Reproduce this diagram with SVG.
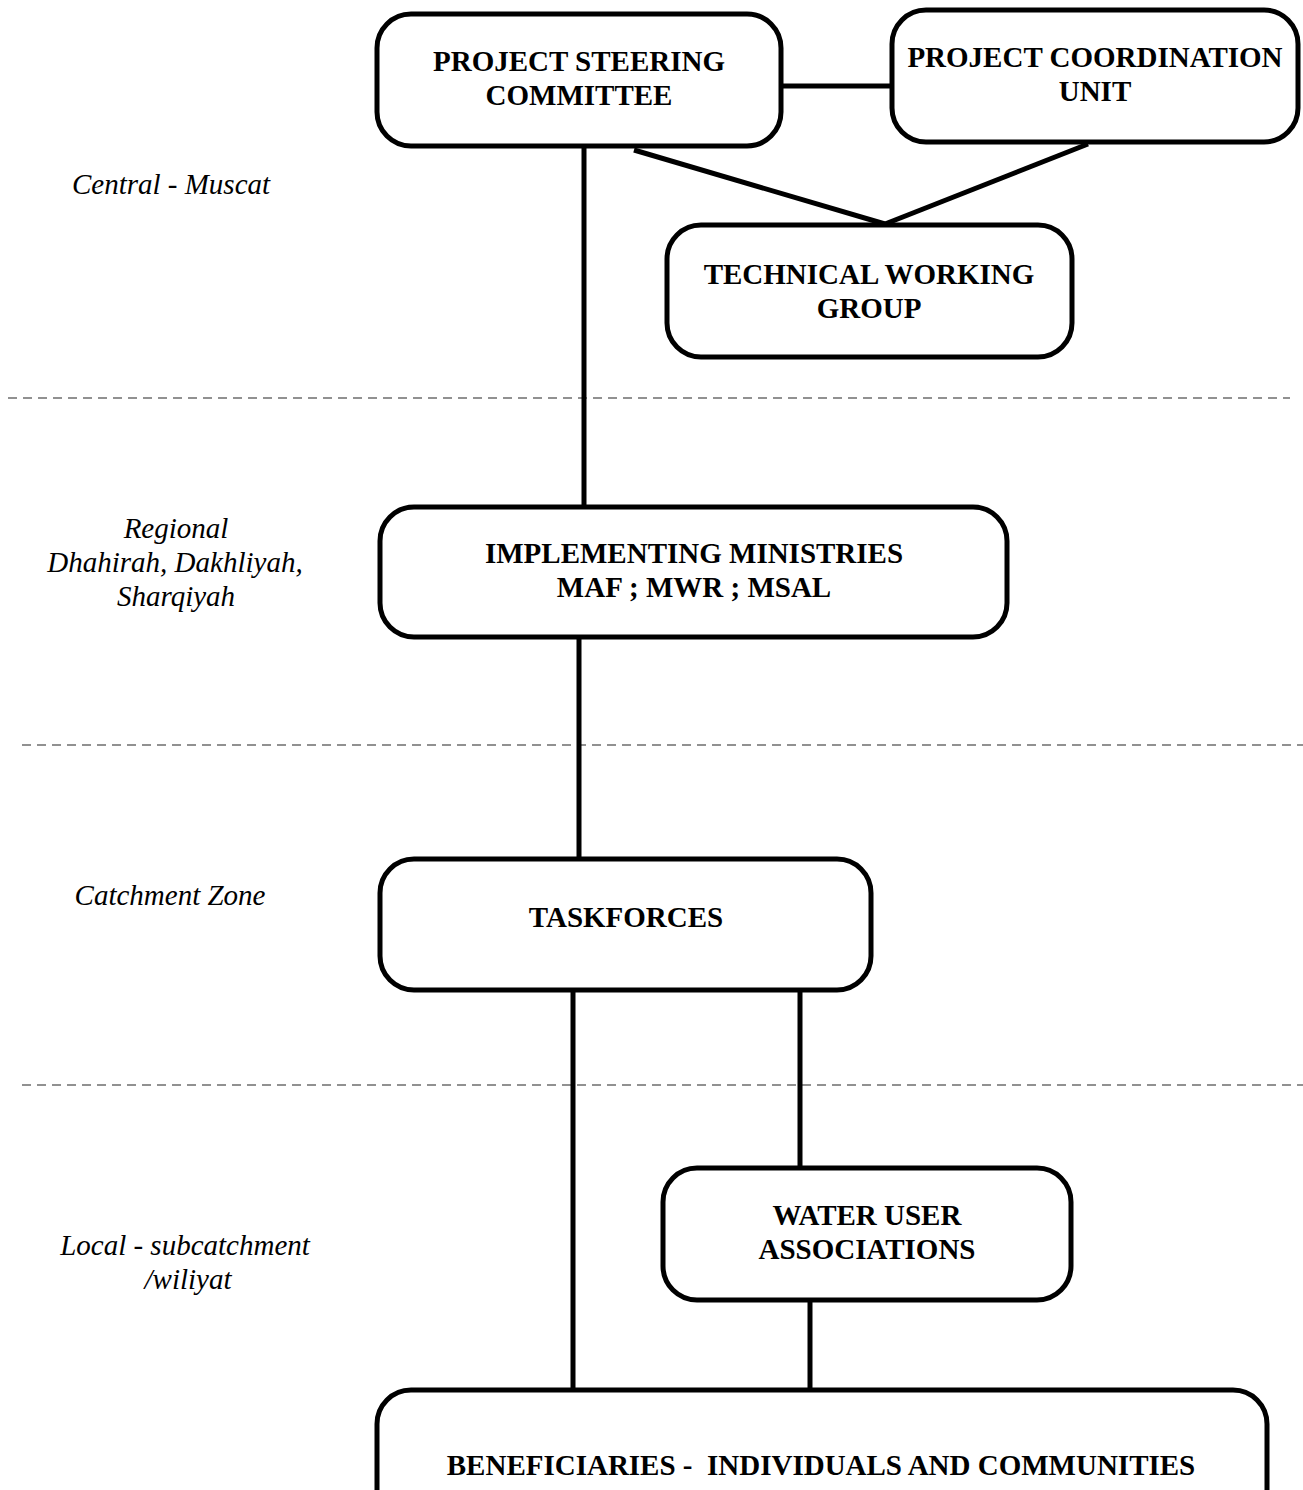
<svg xmlns="http://www.w3.org/2000/svg" width="1303" height="1490" viewBox="0 0 1303 1490">
<style>
.box{fill:#fff;stroke:#000;stroke-width:5}
.lbl{font-family:"Liberation Serif","Times New Roman",serif;font-weight:bold;font-size:29px;fill:#000;text-anchor:middle}
.lvl{font-family:"Liberation Serif","Times New Roman",serif;font-style:italic;font-size:29px;fill:#000;text-anchor:middle}
.con{stroke:#000;stroke-width:5;fill:none}
.dash{stroke:#6e6e6e;stroke-width:1.6;stroke-dasharray:9 6;fill:none}
</style>
<rect width="1303" height="1490" fill="#fff"/>
<g id="separators">
<line class="dash" x1="8" y1="398" x2="1290" y2="398"/>
<line class="dash" x1="22" y1="745" x2="1303" y2="745"/>
<line class="dash" x1="22" y1="1085" x2="1303" y2="1085"/>
</g>
<g id="levels">
<text class="lvl" x="171" y="194">Central - Muscat</text>
<text class="lvl" x="176" y="538">Regional</text>
<text class="lvl" x="175" y="572">Dhahirah, Dakhliyah,</text>
<text class="lvl" x="176" y="606">Sharqiyah</text>
<text class="lvl" x="170" y="905">Catchment Zone</text>
<text class="lvl" x="185" y="1255">Local - subcatchment</text>
<text class="lvl" x="188" y="1289">/wiliyat</text>
</g>
<g id="connectors">
<line class="con" x1="781" y1="86" x2="892" y2="86"/>
<line class="con" x1="634" y1="150" x2="885" y2="224"/>
<line class="con" x1="1088" y1="144" x2="885" y2="224"/>
<line class="con" x1="584" y1="146" x2="584" y2="507"/>
<line class="con" x1="579" y1="637" x2="579" y2="859"/>
<line class="con" x1="573" y1="987" x2="573" y2="1390"/>
<line class="con" x1="800" y1="990" x2="800" y2="1168"/>
<line class="con" x1="810" y1="1300" x2="810" y2="1390"/>
</g>
<g id="psc">
<rect class="box" x="377" y="14" width="404" height="132" rx="34"/>
<text class="lbl" x="579" y="71">PROJECT STEERING</text>
<text class="lbl" x="579" y="105">COMMITTEE</text>
</g>
<g id="pcu">
<rect class="box" x="892" y="10" width="406" height="132" rx="34"/>
<text class="lbl" x="1095" y="67">PROJECT COORDINATION</text>
<text class="lbl" x="1095" y="101">UNIT</text>
</g>
<g id="twg">
<rect class="box" x="667" y="225" width="405" height="132" rx="34"/>
<text class="lbl" x="869" y="284">TECHNICAL WORKING</text>
<text class="lbl" x="869" y="318">GROUP</text>
</g>
<g id="im">
<rect class="box" x="380" y="507" width="627" height="130" rx="34"/>
<text class="lbl" x="694" y="563">IMPLEMENTING MINISTRIES</text>
<text class="lbl" x="694" y="597">MAF ; MWR ; MSAL</text>
</g>
<g id="taskforces">
<rect class="box" x="380" y="859" width="491" height="131" rx="34"/>
<text class="lbl" x="626" y="927">TASKFORCES</text>
</g>
<g id="wua">
<rect class="box" x="663" y="1168" width="408" height="132" rx="34"/>
<text class="lbl" x="867" y="1225">WATER USER</text>
<text class="lbl" x="867" y="1259">ASSOCIATIONS</text>
</g>
<g id="beneficiaries">
<rect class="box" x="377" y="1390" width="890" height="140" rx="34"/>
<text class="lbl" x="821" y="1475" xml:space="preserve">BENEFICIARIES -  INDIVIDUALS AND COMMUNITIES</text>
</g>
</svg>
